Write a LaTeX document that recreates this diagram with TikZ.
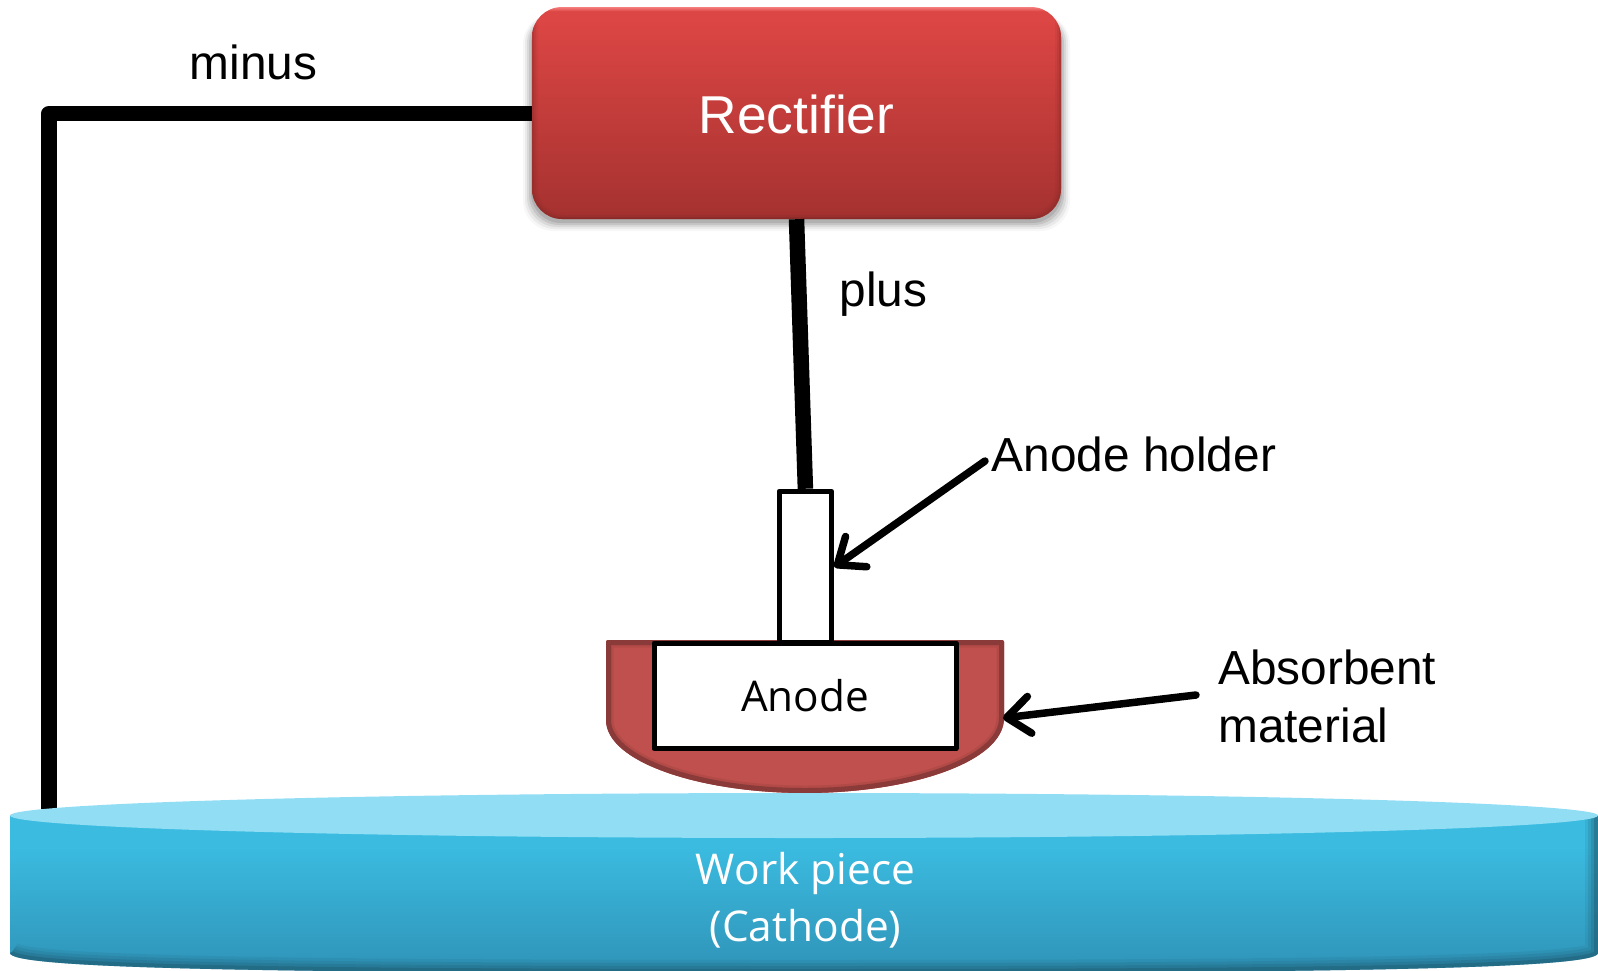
\documentclass[tikz,border=0pt]{standalone}
\usepackage{fontspec}
\setmainfont{Liberation Sans}
\newfontfamily\opensansf{Open Sans}
\usetikzlibrary{arrows.meta}
\definecolor{redA}{HTML}{F57F7D}
\definecolor{redB}{HTML}{DC4644}
\definecolor{redC}{HTML}{A53230}
\definecolor{redD}{HTML}{7F2A28}
\definecolor{blueA}{HTML}{3BBBE0}
\definecolor{blueB}{HTML}{2F93B7}
\definecolor{blueD}{HTML}{1C5266}
\definecolor{blueT}{HTML}{90DDF4}
\definecolor{absFill}{HTML}{C0504D}
\definecolor{absEdge}{HTML}{8A3A38}
\pgfdeclareverticalshading{rectS}{100bp}{color(0bp)=(redD); color(25bp)=(redD); color(25.6bp)=(redC); color(72bp)=(redB); color(74bp)=(redB); color(75bp)=(redA); color(100bp)=(redA)}
\pgfdeclareverticalshading{bodyS}{100bp}{color(0bp)=(blueB); color(25bp)=(blueB); color(65bp)=(blueA); color(75bp)=(blueA); color(100bp)=(blueA)}
\tikzset{
  wire/.style={line width=15.5pt,black,line join=round},
  pointer/.style={line width=7.5pt,black,line cap=round,-{Straight Barb[length=23pt,width=37pt,line width=7.5pt,round]}},
  outlinebox/.style={draw=black,fill=white,line width=5pt,line join=round,inner sep=0pt},
  lab/.style={font=\fontsize{47.8}{58}\selectfont,text=black,inner sep=0pt,align=left},
  whitelab/.style={font=\opensansf\fontsize{42.4}{57}\selectfont,text=white,inner sep=0pt,align=center},
}
\begin{document}
\begin{tikzpicture}[x=1pt,y=-1pt]
\useasboundingbox (0,0) rectangle (1598,970);
\clip (0,0) rectangle (1598,970);
% soft shadow of the rectifier
\foreach \g/\o in {9/.03,7/.05,5/.07,3/.09,1/.10}{
  \fill[black,opacity=\o,rounded corners=30pt] (532-\g,14) rectangle (1061+\g,222+\g);
}
\node[rounded corners=30pt,shading=rectS,minimum width=529pt,minimum height=212pt,inner sep=0pt,
      font=\fontsize{53.3}{60}\selectfont,text=white,text height=41pt,text depth=0pt] (rect) at (796.5,113) {Rectifier};
\begin{scope}
  \clip[rounded corners=30pt] (532,7) rectangle (1061,219);
  \foreach \w/\o in {12/.10,8/.15,4/.25}{
    \draw[redD,line width=\w pt,opacity=\o,rounded corners=30pt] (532,7) -- (532,219) -- (1061,219) -- (1061,7);
  }
\end{scope}
\coordinate (corner) at (49,113.5);
\coordinate (wireEnd) at (49,812);
\draw[wire] (rect.west |- corner) -- (corner) -- (wireEnd);
% absorbent material
\coordinate (absTip) at (1003,718);
\def\abspath{[rounded corners=2pt] (606,640) -- (606,718) [sharp corners] .. controls (606,762) and (700,793) .. (805,793) .. controls (910,793) and (1004,762) .. (1004,718) [rounded corners=2pt] -- (1004,640) -- cycle}
\fill[absFill] \abspath;
\begin{scope}
  \clip \abspath;
  \draw[absEdge,line width=15pt,opacity=.25] \abspath;
  \draw[absEdge,line width=10pt] \abspath;
\end{scope}
% anode holder and anode
\node[outlinebox,minimum width=52.8pt,minimum height=151.5pt] (holder) at (805.4,567) {};
\node[outlinebox,minimum width=302pt,minimum height=105.5pt,font=\opensansf\fontsize{42.3}{50}\selectfont,text height=32pt,text depth=0pt] (anode) at (805,695.75) {Anode};
\draw[line width=15.5pt,black] (rect.south) -- (holder.north);
% work piece
\def\bodycurve{(10,953) .. controls (10,968) and (240,973) .. (804,973) .. controls (1368,973) and (1598,968) .. (1598,953) -- (1598,815)}
\shade[shading=bodyS] (10,815) -- \bodycurve -- cycle;
\begin{scope}
  \clip (10,815) -- \bodycurve -- cycle;
  \foreach \w/\o in {26/.10,20/.15,14/.2,8/.35}{
    \draw[blueD,line width=\w pt,opacity=\o] \bodycurve;
  }
\end{scope}
\fill[blueT] (804,815.5) ellipse [x radius=794, y radius=22.5];
% labels
\node[lab,anchor=center] (minus) at (253.5,62) {minus};
\node[lab,anchor=center] (plus) at (883.5,294) {plus};
\node[lab,anchor=west] (holderlab) at (991.5,454.5) {Anode holder};
\node[lab,anchor=west] (abslab) at (1218,696) {Absorbent\\material};
\node[whitelab] (work) at (805.5,900) {Work piece\\(Cathode)};
\coordinate (holderStart) at (985,461);
\coordinate (absStart) at (1196,695);
\draw[pointer] (holderStart) -- (holder.east);
\draw[pointer] (absStart) -- (absTip);
\end{tikzpicture}
\end{document}
